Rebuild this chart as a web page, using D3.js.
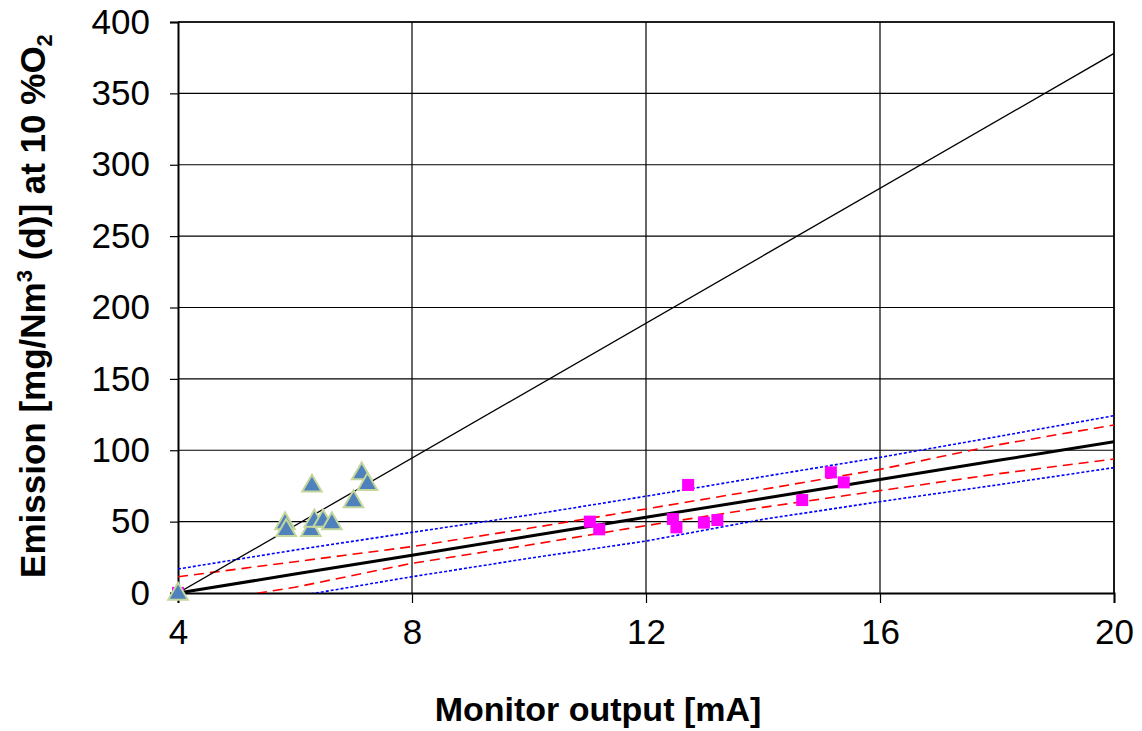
<!DOCTYPE html>
<html><head><meta charset="utf-8">
<script src="https://cdn.jsdelivr.net/npm/d3@7"></script>
<style>
html,body{margin:0;padding:0;background:#fff;}
svg{display:block;font-family:"Liberation Sans",Arial,sans-serif;}
</style></head>
<body>
<svg id="chart" width="1142" height="731"></svg>
<script>
// ---- data ----
const xTicks = [4, 8, 12, 16, 20];
const yTicks = [0, 50, 100, 150, 200, 250, 300, 350, 400];

// Monitor output [mA] vs emission, AMS readings (triangles)
const triX = [4, 5.83, 5.85, 6.29, 6.27, 6.33, 6.48, 6.63, 7.0, 7.14, 7.24];
const triY = [0, 49.3, 44.6, 75.7, 44.6, 51.1, 51.1, 49.3, 64.7, 84.3, 76.8];
// calibrated readings (squares)
const sqX = [4, 11.04, 11.2, 12.46, 12.52, 12.72, 12.99, 13.22, 14.67, 15.16, 15.38];
const sqY = [0, 50.0, 44.6, 51.8, 46.0, 75.7, 49.3, 51.1, 65.1, 84.5, 77.5];

// line x positions
const bandX = [4, 6, 8, 10, 12, 14, 16, 18, 20];
const calY      = [0, 13.25, 26.5, 39.75, 53, 66.25, 79.5, 92.75, 106];
const confUpper = [11.4, 21.9, 32.5, 45.3, 58.9, 72.6, 86.6, 103.7, 117.7];
const confLower = [-9, 4, 20.8, 33.6, 47.2, 60.0, 71.7, 83.4, 93.9];
const predUpper = [16.8, 30.1, 42.5, 54.6, 67.8, 81.5, 95.0, 109.5, 124.2];
const predLower = [-17, -2.5, 11.4, 24.3, 36.4, 51.6, 64.0, 75.7, 87.8];
const rawLineX = [4, 20];
const rawLineY = [0, 378];

const xTitle = "Monitor output [mA]";

// ---- chart ----
const svg = d3.select("#chart");
const L = 178, R = 1114, T = 22, B = 593;
const x = d3.scaleLinear().domain([4, 20]).range([L, R]);
const y = d3.scaleLinear().domain([0, 400]).range([B, T]);

svg.append("defs").append("clipPath").attr("id", "clip")
  .append("rect").attr("x", L).attr("y", T).attr("width", R - L).attr("height", B - T);

// gridlines
const grid = svg.append("g");
grid.selectAll(".hg").data(yTicks.filter(d => d > 0)).join("line")
  .attr("x1", L).attr("x2", R).attr("y1", d => y(d)).attr("y2", d => y(d))
  .attr("stroke", "#000").attr("stroke-width", 1.2);
grid.selectAll(".vg").data(xTicks.filter(d => d > 4)).join("line")
  .attr("x1", d => x(d)).attr("x2", d => x(d)).attr("y1", T).attr("y2", B)
  .attr("stroke", "#000").attr("stroke-width", 1.2);
// top/right border
svg.append("path").attr("d", `M${L},${T}H${R}V${B}`).attr("fill", "none")
  .attr("stroke", "#000").attr("stroke-width", 1.5);

// axes
const yAxis = svg.append("g").attr("transform", `translate(${L},0)`)
  .call(d3.axisLeft(y).tickValues(yTicks).tickSize(8).tickPadding(20).tickFormat(d3.format("d")));
const xAxis = svg.append("g").attr("transform", `translate(0,${B})`)
  .call(d3.axisBottom(x).tickValues(xTicks).tickSize(10).tickPadding(16).tickFormat(d3.format("d")));
[yAxis, xAxis].forEach(g => {
  g.select(".domain").attr("stroke", "#000").attr("stroke-width", 2);
  g.selectAll(".tick line").attr("stroke", "#000").attr("stroke-width", 1.2);
  g.selectAll(".tick text").attr("fill", "#000").attr("font-size", 35)
    .attr("font-family", "'Liberation Sans', Arial, sans-serif");
});

const tri = d3.symbol().type(d3.symbolTriangle).size(165);
const triData = triX.map((v, i) => [v, triY[i]]);
const sqData = sqX.map((v, i) => [v, sqY[i]]);

const plot = svg.append("g").attr("clip-path", "url(#clip)");
const line = d3.line().x(d => x(d[0])).y(d => y(d[1]));
const mk = arr => bandX.map((v, i) => [v, arr[i]]);

// squares (origin one sits under the triangle)
svg.append("g").selectAll("rect").data(sqData.slice(0, 1)).join("rect")
  .attr("x", d => x(d[0]) - 6).attr("y", d => y(d[1]) - 6)
  .attr("width", 12).attr("height", 12).attr("fill", "#FF00FF");

// triangles
svg.append("g").selectAll("path").data(triData).join("path")
  .attr("d", tri)
  .attr("transform", d => `translate(${x(d[0])},${y(d[1]) + 1})`)
  .attr("fill", "#4F81BD").attr("stroke", "#C3D69B").attr("stroke-width", 2);

// lines
plot.append("path").datum(mk(predUpper)).attr("d", line).attr("fill", "none")
  .attr("stroke", "#0000FF").attr("stroke-width", 1.6).attr("stroke-dasharray", "3,2");
plot.append("path").datum(mk(predLower)).attr("d", line).attr("fill", "none")
  .attr("stroke", "#0000FF").attr("stroke-width", 1.6).attr("stroke-dasharray", "3,2");
plot.append("path").datum(mk(confUpper)).attr("d", line).attr("fill", "none")
  .attr("stroke", "#FF0000").attr("stroke-width", 1.6).attr("stroke-dasharray", "10,6");
plot.append("path").datum(mk(confLower)).attr("d", line).attr("fill", "none")
  .attr("stroke", "#FF0000").attr("stroke-width", 1.6).attr("stroke-dasharray", "10,6");
plot.append("path").datum(mk(calY)).attr("d", line).attr("fill", "none")
  .attr("stroke", "#000").attr("stroke-width", 3);
plot.append("path").datum(rawLineX.map((v, i) => [v, rawLineY[i]])).attr("d", line).attr("fill", "none")
  .attr("stroke", "#000").attr("stroke-width", 1.3);

// squares on top of lines
svg.append("g").selectAll("rect").data(sqData.slice(1)).join("rect")
  .attr("x", d => x(d[0]) - 6).attr("y", d => y(d[1]) - 6)
  .attr("width", 12).attr("height", 12).attr("fill", "#FF00FF");

// axis titles
svg.append("text").attr("x", 598).attr("y", 721).attr("text-anchor", "middle")
  .attr("font-size", 34).attr("font-weight", "bold").text(xTitle);

const yt = svg.append("text").attr("transform", "translate(45,306) rotate(-90)")
  .attr("text-anchor", "middle").attr("font-size", 35).attr("font-weight", "bold");
yt.append("tspan").text("Emission [mg/Nm");
yt.append("tspan").attr("font-size", 22).attr("dy", -13).text("3");
yt.append("tspan").attr("dy", 13).text(" (d)] at 10 %O");
yt.append("tspan").attr("font-size", 22).attr("dy", 7).text("2");
</script>
</body></html>
